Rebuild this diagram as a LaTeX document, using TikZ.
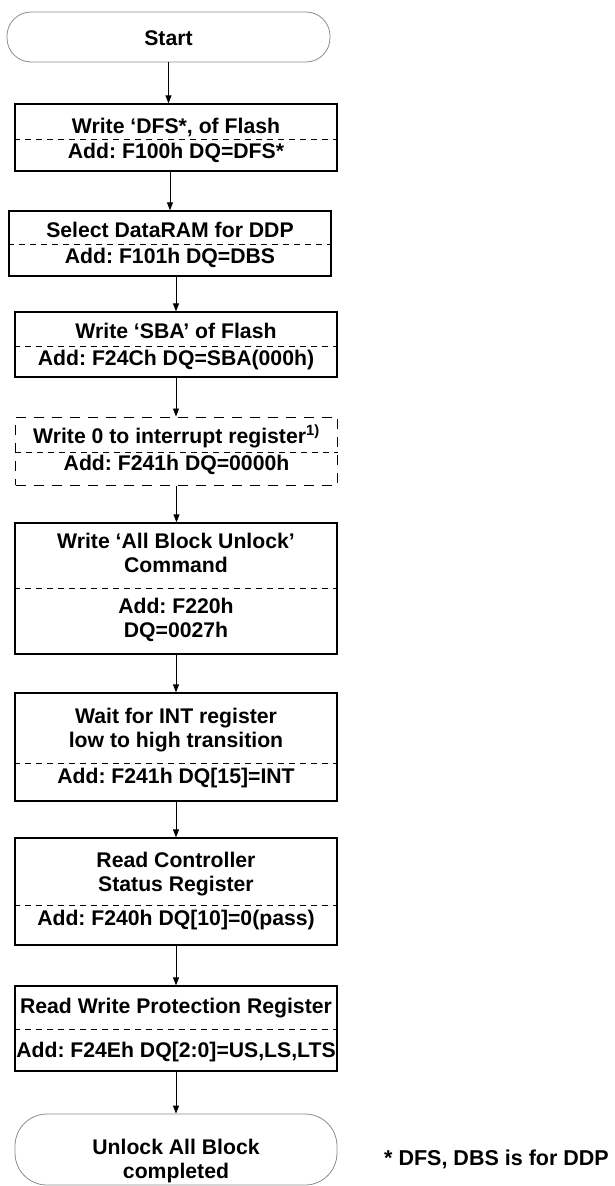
\documentclass[tikz,border=0pt]{standalone}
\usepackage{fontspec}
\setmainfont{Liberation Sans}
\usetikzlibrary{arrows.meta}
\frenchspacing

\tikzset{
  stepbox/.style={draw, line width=1.3pt, minimum width=322pt, inner sep=0pt},
  dashbox/.style={stepbox, line width=1pt, dash pattern=on 10pt off 8pt},
  term/.style={draw=black!45, line width=0.8pt, inner sep=0pt},
  divider/.style={line width=0.8pt, dash pattern=on 6pt off 5pt},
  flow/.style={-{Triangle[width=6pt,length=8pt]}, line width=0.9pt},
  txt/.style={font=\bfseries\fontsize{21.2}{23.5}\selectfont, align=center, inner sep=0pt, anchor=base},
}

\begin{document}
\begin{tikzpicture}[x=1pt,y=-1pt]
        \useasboundingbox (0,0) rectangle (615,1186);
        %% terminals
        \node[term,minimum width=323pt,minimum height=50pt,rounded corners=24pt] (start) at (168.5,37) {};
        \node[txt] (startt) at (168.5,45) {Start};
        \node[term,minimum width=322pt,minimum height=71pt,rounded corners=32pt] (end) at (176,1149.5) {};
        \node[txt] (endt) at (176,1178) {Unlock All Block\\completed};
        %% steps
        \node[stepbox,minimum height=67pt] (b1) at (176,137.5) {};
        \node[txt] (b1t) at (176,133) {Write ‘DFS*, of Flash};
        \node[txt] (b1a) at (176,158) {Add: F100h DQ=DFS*};
        \draw[divider] (b1.west |- 0,139) -- (b1.east |- 0,139);

        \node[stepbox,minimum height=65pt] (b2) at (170,243.5) {};
        \node[txt] (b2t) at (170,237) {Select DataRAM for DDP};
        \node[txt] (b2a) at (170,263) {Add: F101h DQ=DBS};
        \draw[divider] (b2.west |- 0,244) -- (b2.east |- 0,244);

        \node[stepbox,minimum height=65pt] (b3) at (176,344.5) {};
        \node[txt] (b3t) at (176,338) {Write ‘SBA’ of Flash};
        \node[txt] (b3a) at (176,365) {Add: F24Ch DQ=SBA(000h)};
        \draw[divider] (b3.west |- 0,346) -- (b3.east |- 0,346);

        \node[dashbox,minimum height=68pt] (b4) at (176.5,451) {};
        \node[txt] (b4t) at (176.5,443) {Write 0 to interrupt register\textsuperscript{1)}};
        \node[txt] (b4a) at (176.5,470) {Add: F241h DQ=0000h};
        \draw[divider] (b4.west |- 0,452) -- (b4.east |- 0,452);

        \node[stepbox,minimum height=131pt] (b5) at (176,588.5) {};
        \node[txt] (b5t) at (176,572) {Write ‘All Block Unlock’\\Command};
        \node[txt] (b5a) at (176,637) {Add: F220h\\DQ=0027h};
        \draw[divider] (b5.west |- 0,588) -- (b5.east |- 0,588);

        \node[stepbox,minimum height=108pt] (b6) at (176,747) {};
        \node[txt] (b6t) at (176,747) {Wait for INT register\\low to high transition};
        \node[txt] (b6a) at (176,783) {Add: F241h DQ[15]=INT};
        \draw[divider] (b6.west |- 0,763) -- (b6.east |- 0,763);

        \node[stepbox,minimum height=107pt] (b7) at (176,891.5) {};
        \node[txt] (b7t) at (176,891) {Read Controller\\Status Register};
        \node[txt] (b7a) at (176,925) {Add: F240h DQ[10]=0(pass)};
        \draw[divider] (b7.west |- 0,905) -- (b7.east |- 0,905);

        \node[stepbox,minimum height=85pt] (b8) at (176,1028.5) {};
        \node[txt] (b8t) at (176,1013) {Read Write Protection Register};
        \node[txt] (b8a) at (176,1057) {Add: F24Eh DQ[2:0]=US,LS,LTS};
        \draw[divider] (b8.west |- 0,1029) -- (b8.east |- 0,1029);
        %% flow
        \draw[flow] (start.south) -- (start.south |- b1.north);
        \draw[flow] (b2.north |- b1.south) -- (b2.north);
        \draw[flow] (b3.north |- b2.south) -- (b3.north);
        \draw[flow] (b3.south) -- (b3.south |- b4.north);
        \draw[flow] (b4.south) -- (b4.south |- b5.north);
        \draw[flow] (b5.south) -- (b6.north);
        \draw[flow] (b6.south) -- (b7.north);
        \draw[flow] (b7.south) -- (b8.north);
        \draw[flow] (b8.south) -- (end.north);
        %% footnote
        \node[txt,anchor=base east,font=\bfseries\fontsize{21.5}{24}\selectfont] (note) at (609,1165) {* DFS, DBS is for DDP};
\end{tikzpicture}
\end{document}
